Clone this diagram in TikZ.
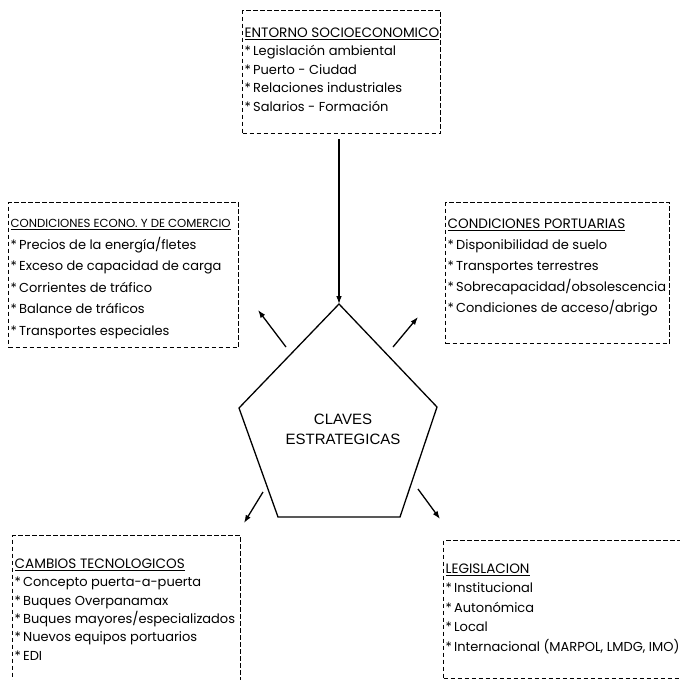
\documentclass[tikz,border=0pt]{standalone}
\usepackage{fontspec}
\setmainfont{Poppins}
\newfontfamily\clavefont{Liberation Sans}
\usetikzlibrary{arrows.meta, positioning, calc}
\tikzset{> = { Latex[length = 2.8mm, width = 2mm] }}
\newcommand{\vineta}{{*}\,}
\newcommand{\titulo}[2][13.6]{{\fontsize{#1}{12}\selectfont\underline{#2}}}

\begin{document}
\begin{tikzpicture}[x = 1pt, y = -1pt, line width = 1.3pt,
		caja/.style = { draw, dash pattern = on 4.5pt off 2.5pt, anchor = north west, inner sep = 0pt },
		lista/.style 2 args = { anchor = north west, align = left, inner sep = 0pt, font = \fontsize{#1}{#2}\selectfont }]
		\clip (0, 0) rectangle (680, 680);

		% pentagono central
		\coordinate (p1) at (339, 304);
		\coordinate (p2) at (437, 407);
		\coordinate (p3) at (400, 517);
		\coordinate (p4) at (278, 517);
		\coordinate (p5) at (239, 408);
		\draw (p1) -- (p2) -- (p3) -- (p4) -- (p5) -- cycle;
		\node [font = \clavefont\fontsize{15}{20}\selectfont, align = center] (claves) at (343, 429) {CLAVES\\ESTRATEGICAS};

		% cajas
		\node [caja, minimum width = 198, minimum height = 123] (entorno) at (242, 10) {};
		\node [caja, minimum width = 230, minimum height = 145] (econo) at (8, 202) {};
		\node [caja, minimum width = 224, minimum height = 141] (portua) at (445, 202) {};
		\node [caja, minimum width = 228, minimum height = 170] (tecno) at (12, 535) {};
		\node [caja, minimum width = 260, minimum height = 138] (legis) at (443, 540) {};

		\node [lista = {13}{18.5pt}] (entorno-t) at (244, 27) {\titulo{ENTORNO SOCIOECONOMICO}\\
			\vineta Legislación ambiental\\ \vineta Puerto - Ciudad\\ \vineta Relaciones industriales\\ \vineta Salarios - Formación};
		\node [lista = {13}{21.5pt}] (econo-t) at (10, 219) {\titulo[11.7]{CONDICIONES ECONO. Y DE COMERCIO}\\
			\vineta Precios de la energía/fletes\\ \vineta Exceso de capacidad de carga\\ \vineta Corrientes de tráfico\\
			\vineta Balance de tráficos\\ \vineta Transportes especiales};
		\node [lista = {13}{21pt}] (portua-t) at (447, 218) {\titulo{CONDICIONES PORTUARIAS}\\
			\vineta Disponibilidad de suelo\\ \vineta Transportes terrestres\\ \vineta Sobrecapacidad/obsolescencia\\
			\vineta Condiciones de acceso/abrigo};
		\node [lista = {13}{18.4pt}] (tecno-t) at (14, 558) {\titulo{CAMBIOS TECNOLOGICOS}\\
			\vineta Concepto puerta-a-puerta\\ \vineta Buques Overpanamax\\ \vineta Buques mayores/especializados\\
			\vineta Nuevos equipos portuarios\\ \vineta EDI};
		\node [lista = {13}{19.5pt}] (legis-t) at (445, 563) {\titulo{LEGISLACION}\\
			\vineta Institucional\\ \vineta Autonómica\\ \vineta Local\\ \vineta Internacional (MARPOL, LMDG, IMO)};

		% flechas
		\coordinate (a1s) at (286, 347);
		\coordinate (a1e) at (258, 310);
		\coordinate (a2s) at (393, 347);
		\coordinate (a2e) at (418, 317);
		\coordinate (a3s) at (263, 492);
		\coordinate (a3e) at (244, 523);
		\coordinate (a4s) at (418, 489);
		\coordinate (a4e) at (440, 519);

		\draw [->, shorten < = 5pt] (entorno.south -| p1) -- (p1);
		\draw [->] (a1s) -- (a1e);
		\draw [->] (a2s) -- (a2e);
		\draw [->] (a3s) -- (a3e);
		\draw [->] (a4s) -- (a4e);
	\end{tikzpicture}
\end{document}
